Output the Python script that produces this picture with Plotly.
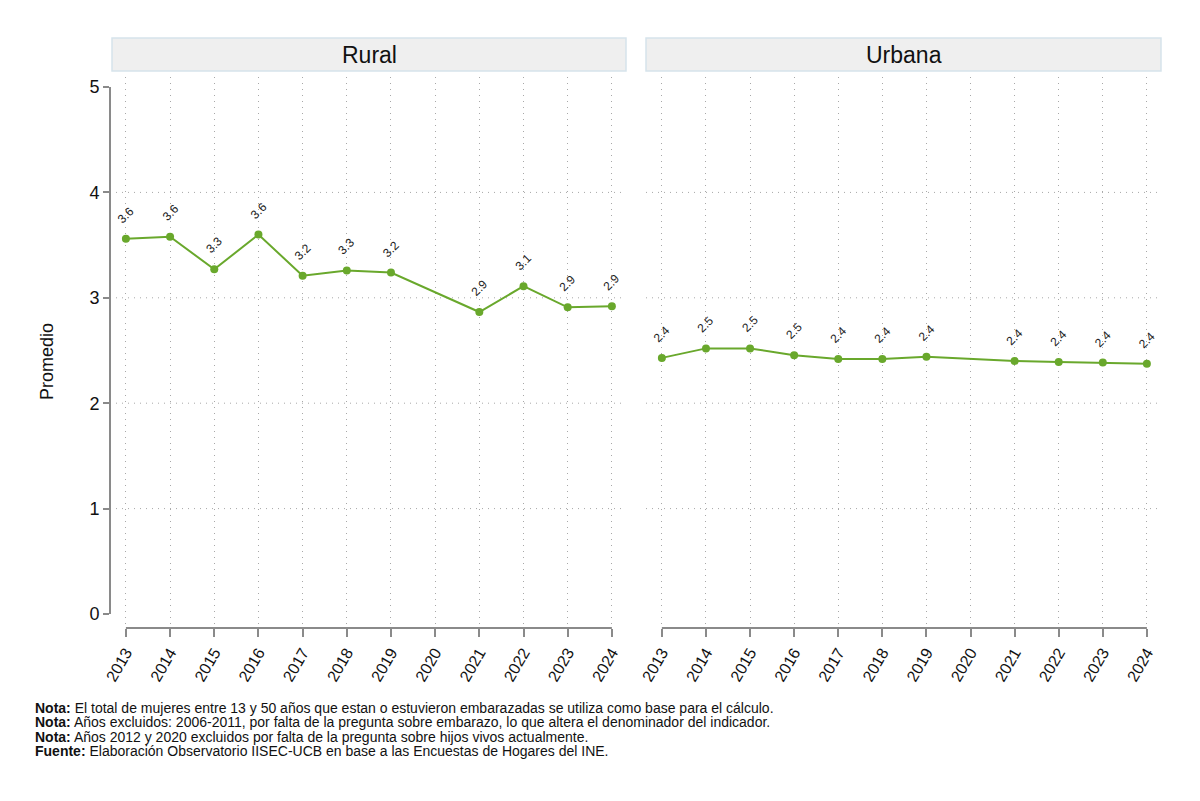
import plotly.graph_objects as go

W, H = 1200, 801

years = [2013, 2014, 2015, 2016, 2017, 2018, 2019, 2021, 2022, 2023, 2024]
rural = [3.56, 3.58, 3.27, 3.60, 3.21, 3.26, 3.24, 2.865, 3.11, 2.91, 2.92]
urbana = [2.43, 2.52, 2.52, 2.455, 2.42, 2.42, 2.44, 2.40, 2.39, 2.385, 2.375]
panels = ["Rural", "Urbana"]
xticks = list(range(2013, 2025))
yticks = [0, 1, 2, 3, 4, 5]
notes = [
    ("Nota:", " El total de mujeres entre 13 y 50 años que estan o estuvieron embarazadas se utiliza como base para el cálculo."),
    ("Nota:", " Años excluidos: 2006-2011, por falta de la pregunta sobre embarazo, lo que altera el denominador del indicador."),
    ("Nota:", " Años 2012 y 2020 excluidos por falta de la pregunta sobre hijos vivos actualmente."),
    ("Fuente:", " Elaboración Observatorio IISEC-UCB en base a las Encuestas de Hogares del INE."),
]

GREEN = "#69a82c"
AXC = "#8a8a8a"
GRIDC = "#a8a8a8"
FONT = "Liberation Sans, Arial, sans-serif"

def px_x(p):
    return p / W

def px_y(p):
    return 1 - p / H

xdom = [[px_x(110), px_x(626)], [px_x(646), px_x(1161)]]
ydom = [px_y(628), px_y(77)]
xr = [2012.64, 2024.32]
yr = [-0.133, 5.095]

fig = go.Figure()
series = [rural, urbana]
annotations = []
shapes = []
for i, (name, vals) in enumerate(zip(panels, series)):
    xa = "x" if i == 0 else "x2"
    ya = "y" if i == 0 else "y2"
    fig.add_trace(go.Scatter(
        x=years, y=vals, mode="lines+markers",
        line=dict(color=GREEN, width=2),
        marker=dict(color=GREEN, size=8),
        xaxis=xa, yaxis=ya, showlegend=False, hoverinfo="x+y",
    ))
    for xv, yv in zip(years, vals):
        annotations.append(dict(
            x=xv, y=yv, xref=xa, yref=ya, text=f"{yv:.1f}", showarrow=False,
            textangle=-45, yshift=24, xanchor="center", yanchor="middle",
            font=dict(size=12, color="#222222", family=FONT),
        ))
    # strip
    x0, x1 = (112, 626) if i == 0 else (646, 1161)
    shapes.append(dict(type="rect", xref="paper", yref="paper",
                       x0=px_x(x0), x1=px_x(x1), y0=px_y(71), y1=px_y(38),
                       fillcolor="#efefef", line=dict(color="#d6e4ec", width=1.5),
                       layer="below"))
    annotations.append(dict(x=px_x((x0 + x1) / 2), y=px_y(55), xref="paper", yref="paper",
                            text=name, showarrow=False, xanchor="center", yanchor="middle",
                            font=dict(size=23, color="#111111", family=FONT)))
    # horizontal dotted grid lines
    for g in yticks[1:-1]:
        shapes.append(dict(type="line", xref=f"{xa} domain", yref=ya,
                           x0=0, x1=1, y0=g, y1=g,
                           line=dict(color=GRIDC, width=1, dash="1px,5px"), layer="below"))
    # x axis line
    shapes.append(dict(type="line", xref=xa, yref=f"{ya} domain",
                       x0=xticks[0], x1=xticks[-1], y0=0, y1=0,
                       line=dict(color=AXC, width=2)))

# y axis line (left panel only)
shapes.append(dict(type="line", xref="x domain", yref="y",
                   x0=0, x1=0, y0=yticks[0], y1=yticks[-1],
                   line=dict(color=AXC, width=2)))

# notes
for k, (b, t) in enumerate(notes):
    annotations.append(dict(x=px_x(33), y=px_y(708 + 14.3 * k), xref="paper", yref="paper",
                            text=f"<b>{b}</b>{t}", showarrow=False,
                            xanchor="left", yanchor="middle",
                            font=dict(size=14, color="#111111", family=FONT)))

# y title
annotations.append(dict(x=px_x(47), y=px_y(362), xref="paper", yref="paper",
                        text="Promedio", showarrow=False, textangle=-90,
                        xanchor="center", yanchor="middle",
                        font=dict(size=18, color="#111111", family=FONT)))

xcommon = dict(range=xr, tickvals=xticks, ticktext=[str(t) for t in xticks],
               tickangle=-60, ticks="outside", ticklen=8, tickwidth=2, tickcolor=AXC,
               showgrid=True, gridcolor=GRIDC, griddash="1px,5px", gridwidth=1,
               showline=False, zeroline=False, automargin=False,
               tickfont=dict(size=16, color="#111111", family=FONT), fixedrange=True)

fig.update_layout(
    width=W, height=H,
    margin=dict(l=0, r=0, t=0, b=0),
    paper_bgcolor="white", plot_bgcolor="white",
    xaxis=dict(domain=xdom[0], anchor="y", **xcommon),
    xaxis2=dict(domain=xdom[1], anchor="y2", **xcommon),
    yaxis=dict(domain=ydom, range=yr, anchor="x", tickvals=yticks,
               ticks="outside", ticklen=6, tickwidth=2, tickcolor=AXC,
               showgrid=False, zeroline=False, showline=False, automargin=False,
               tickfont=dict(size=18, color="#111111", family=FONT)),
    yaxis2=dict(domain=ydom, range=yr, anchor="x2", tickvals=yticks,
                showticklabels=False, ticks="", automargin=False,
                showgrid=False, zeroline=False, showline=False),
    annotations=annotations,
    shapes=shapes,
    font=dict(family=FONT),
)

fig.write_html("out.html")
